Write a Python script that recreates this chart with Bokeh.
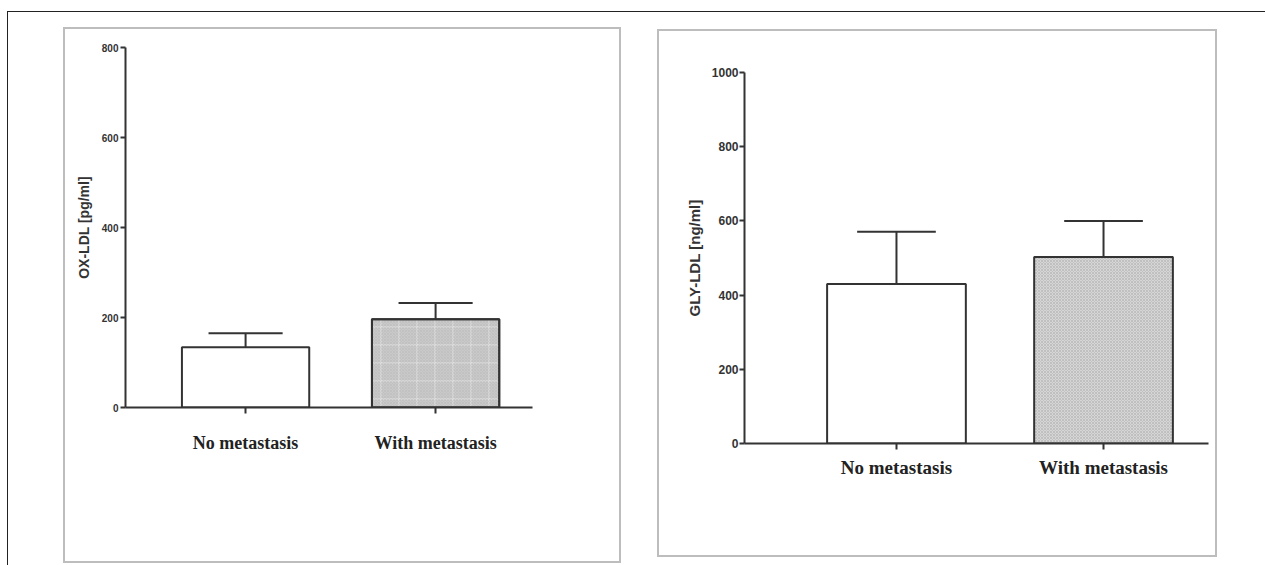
from bokeh.plotting import figure
from bokeh.models import Range1d, FixedTicker, Div
from bokeh.embed import file_html
from bokeh.resources import INLINE

# ---- data ----
categories = ["No metastasis", "With metastasis"]
ox_ldl_mean = [134, 196]
ox_ldl_upper = [165, 232]
gly_ldl_mean = [430, 503]
gly_ldl_upper = [571, 600]
ox_ticks = [0, 200, 400, 600, 800]
gly_ticks = [0, 200, 400, 600, 800, 1000]

AX = "#333333"
SANS = "Liberation Sans"
SERIF = "Liberation Serif"


def box(left, top, width, height, border):
    return Div(text="", width=width, height=height, margin=0,
               styles={"position": "absolute", "left": f"{left}px", "top": f"{top}px",
                       "box-sizing": "border-box", **border})


def make_panel(means, uppers, width, height, borders, xr, yr, cap_w, left, top):
    p = figure(width=width, height=height, output_backend="svg", toolbar_location=None,
               x_range=Range1d(*xr), y_range=Range1d(*yr),
               min_border_left=borders[0], min_border_right=borders[1],
               min_border_top=borders[2], min_border_bottom=borders[3])
    p.title.visible = False
    p.margin = 0
    p.styles = {"position": "absolute", "left": f"{left}px", "top": f"{top}px"}
    p.outline_line_color = None
    p.xgrid.visible = False
    p.ygrid.visible = False
    p.background_fill_color = "white"
    p.border_fill_color = "white"

    xs = [i + 1 for i in range(len(categories))]

    # error bars (upper only)
    p.segment(x0=xs, y0=means, x1=xs, y1=uppers, line_color=AX, line_width=2)
    p.segment(x0=[x - cap_w / 2 for x in xs], y0=uppers,
              x1=[x + cap_w / 2 for x in xs], y1=uppers, line_color=AX, line_width=2)
    # white bar (no metastasis)
    p.vbar(x=xs[:1], top=means[:1], width=0.67, bottom=0, fill_color="white",
           line_color=AX, line_width=2)
    return p, xs


p1, xs = make_panel(ox_ldl_mean, ox_ldl_upper, 554, 532, (60, 87, 18, 154),
                    (0.368, 2.51), (0, 800), 0.39, 65, 29)
p1.vbar(x=xs[1:], top=ox_ldl_mean[1:], width=0.67, bottom=0, fill_color="#c9c9c9",
        hatch_pattern="cross", hatch_scale=18, hatch_color="white", hatch_weight=1,
        hatch_alpha=0.45, line_color=AX, line_width=2)
p1.vbar(x=xs[1:], top=ox_ldl_mean[1:], width=0.67, bottom=0, fill_alpha=0,
        hatch_pattern="diagonal_cross", hatch_scale=3, hatch_color="#b0b0b0",
        hatch_weight=0.5, hatch_alpha=0.6, line_color=AX, line_width=2)

p2, xs2 = make_panel(gly_ldl_mean, gly_ldl_upper, 556, 524, (85, 7, 41, 112),
                     (0.266, 2.507), (0, 1000), 0.38, 659, 31)
p2.vbar(x=xs2[1:], top=gly_ldl_mean[1:], width=0.67, bottom=0, fill_color="#d6d6d6",
        hatch_pattern="diagonal_cross", hatch_scale=3, hatch_color="#b0b0b0",
        hatch_weight=0.6, line_color=AX, line_width=2)

for p, ticks, ylabel, tf, ttf, cf, cs, ts, tks in [
        (p1, ox_ticks, "OX-LDL [pg/ml]", "10px", "14px", "18px", 19, 7, 2),
        (p2, gly_ticks, "GLY-LDL [ng/ml]", "12px", "15px", "19px", 7, 6, 1)]:
    xa = p.xaxis[0]
    xa.ticker = FixedTicker(ticks=[1, 2])
    xa.major_label_overrides = {i + 1: c for i, c in enumerate(categories)}
    xa.major_label_text_font = SERIF
    xa.major_label_text_font_style = "bold"
    xa.major_label_text_font_size = cf
    xa.major_label_text_color = "#222222"
    xa.major_label_standoff = cs
    xa.minor_tick_line_color = None
    xa.major_tick_in = 0
    xa.major_tick_out = 6
    xa.major_tick_line_width = 2
    xa.major_tick_line_color = AX
    xa.axis_line_width = 2
    xa.axis_line_color = AX

    ya = p.yaxis[0]
    ya.ticker = FixedTicker(ticks=ticks)
    ya.axis_label = ylabel
    ya.axis_label_text_font = SANS
    ya.axis_label_text_font_style = "bold"
    ya.axis_label_text_font_size = ttf
    ya.axis_label_text_color = "#333333"
    ya.axis_label_standoff = ts
    ya.major_label_text_font = SANS
    ya.major_label_text_font_style = "bold"
    ya.major_label_text_font_size = tf
    ya.major_label_text_color = "#333333"
    ya.major_label_standoff = tks
    ya.minor_tick_line_color = None
    ya.major_tick_in = 0
    ya.major_tick_out = 5
    ya.major_tick_line_width = 2
    ya.major_tick_line_color = AX
    ya.axis_line_width = 2
    ya.axis_line_color = AX

frame = box(7, 11, 1258, 554, {"border-top": "1.5px solid #222",
                               "border-left": "1.5px solid #222"})
panel1 = box(63, 27, 558, 536, {"border": "2px solid #bdbdbd"})
panel2 = box(657, 29, 560, 528, {"border": "2px solid #bdbdbd"})

open("out.html", "w").write(file_html([frame, panel1, panel2, p1, p2], INLINE))
